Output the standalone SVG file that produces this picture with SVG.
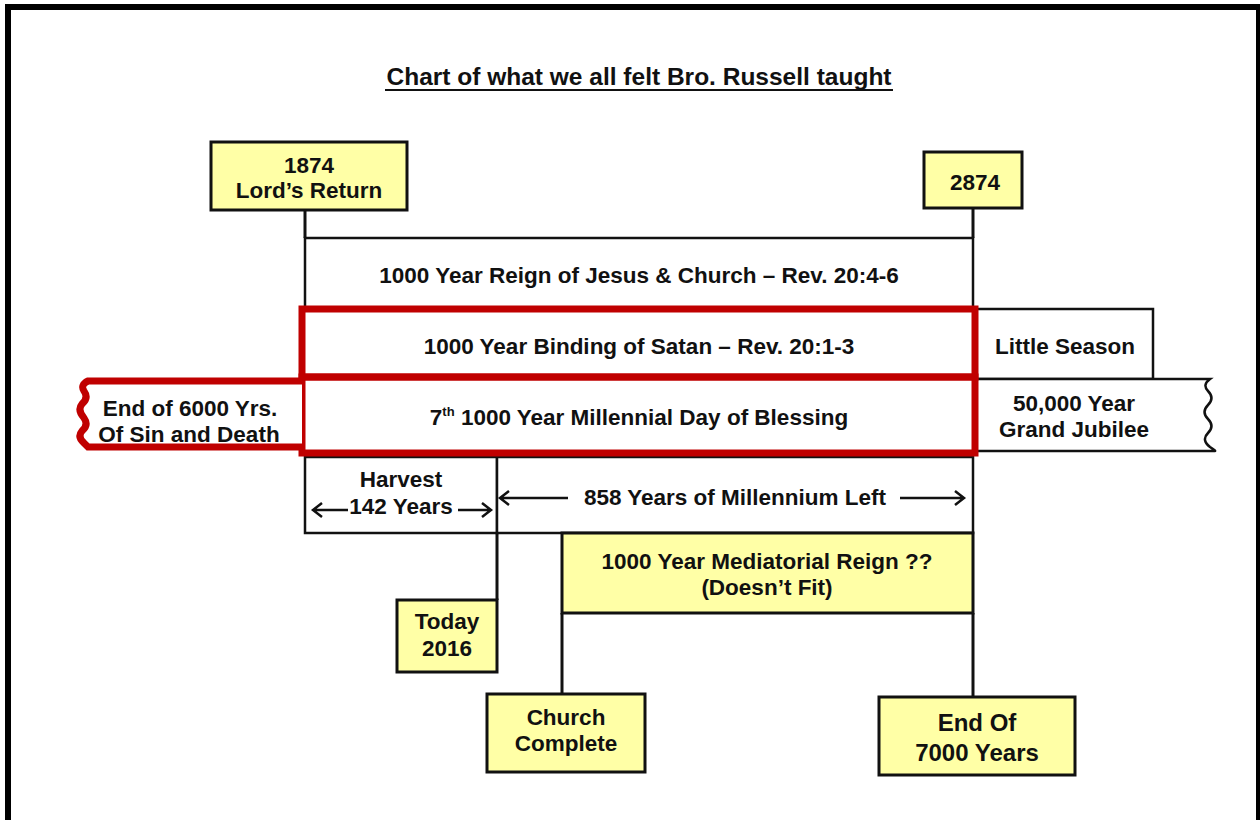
<svg xmlns="http://www.w3.org/2000/svg" width="1260" height="820" viewBox="0 0 1260 820">
<style>
text{font-family:"Liberation Sans",Arial,sans-serif;font-weight:bold;fill:#111;text-anchor:middle;font-size:22.5px}
.yb{fill:#FFFFA6;stroke:#111;stroke-width:3}
.wb{fill:#fff;stroke:#111;stroke-width:2.5}
.red{fill:none;stroke:#C00000;stroke-width:7}
.con{stroke:#111;stroke-width:3;fill:none}
.arr{stroke:#111;stroke-width:2.5;fill:none}
.big{font-size:24px}
</style>
<rect x="0" y="0" width="1260" height="820" fill="#fff"/>
<rect x="8" y="7" width="1251" height="840" fill="none" stroke="#000" stroke-width="6"/>
<g id="title">
<text x="639" y="85" style="font-size:24.5px">Chart of what we all felt Bro. Russell taught</text>
<line x1="385" y1="90" x2="893" y2="90" stroke="#111" stroke-width="2"/>
</g>
<g id="connectors">
<line class="con" x1="305" y1="210" x2="305" y2="238"/>
<line class="con" x1="973" y1="208" x2="973" y2="238"/>
<line class="con" x1="497" y1="533" x2="497" y2="600"/>
<line class="con" x1="562" y1="613" x2="562" y2="694"/>
<line class="con" x1="973" y1="613" x2="973" y2="697"/>
</g>
<g id="reign">
<rect class="wb" x="305" y="238" width="668" height="72"/>
<text x="639" y="283">1000 Year Reign of Jesus &amp; Church – Rev. 20:4-6</text>
</g>
<g id="harvest">
<rect class="wb" x="305" y="457" width="192" height="76"/>
<text x="401" y="487">Harvest</text>
<text x="401" y="514">142 Years</text>
<path class="arr" d="M348,510 H313 M322,503 L313,510 L322,517"/>
<path class="arr" d="M458,510 H491 M482,503 L491,510 L482,517"/>
</g>
<g id="millennium-left">
<rect class="wb" x="497" y="457" width="476" height="76"/>
<text x="735" y="505">858 Years of Millennium Left</text>
<path class="arr" d="M568,498 H500 M509,491 L500,498 L509,505"/>
<path class="arr" d="M900,498 H964 M955,491 L964,498 L955,505"/>
</g>
<g id="little-season">
<rect class="wb" x="975" y="309" width="178" height="70"/>
<text x="1065" y="354">Little Season</text>
</g>
<g id="jubilee">
<path class="wb" d="M975,379 H1210 q-8,6 -2,12 q7,7 0,14 q-7,7 0,14 q7,7 0,14 q-7,7 2,14 q6,4 5,4 H975"/>
<text x="1074" y="411">50,000 Year</text>
<text x="1074" y="437">Grand Jubilee</text>
</g>
<g id="binding">
<rect class="red" x="302" y="309" width="673" height="68"/>
<text x="639" y="354">1000 Year Binding of Satan – Rev. 20:1-3</text>
</g>
<g id="seventh">
<rect class="red" x="302" y="377" width="673" height="76"/>
<text x="639" y="425">7<tspan dy="-9" style="font-size:13px">th</tspan><tspan dy="9"> 1000 Year Millennial Day of Blessing</tspan></text>
</g>
<g id="end-6000">
<path class="red" d="M302,381 H88 q-8,4 -4,10 q5,7 -2,13 q-5,6 2,14 q5,7 -2,13 q-5,6 2,12 q4,4 4,4 H302" style="fill:#fff"/>
<text x="190" y="416">End of 6000 Yrs.</text>
<text x="189" y="442">Of Sin and Death</text>
</g>
<g id="lords-return">
<rect class="yb" x="211" y="142" width="196" height="68"/>
<text x="309" y="173">1874</text>
<text x="309" y="198">Lord’s Return</text>
</g>
<g id="y2874">
<rect class="yb" x="924" y="152" width="98" height="56"/>
<text x="975" y="190">2874</text>
</g>
<g id="mediatorial">
<rect class="yb" x="562" y="533" width="411" height="80"/>
<text x="767" y="569">1000 Year Mediatorial Reign ??</text>
<text x="767" y="595">(Doesn’t Fit)</text>
</g>
<g id="today">
<rect class="yb" x="397" y="600" width="100" height="72"/>
<text x="447" y="629">Today</text>
<text x="447" y="656">2016</text>
</g>
<g id="church-complete">
<rect class="yb" x="487" y="694" width="158" height="78"/>
<text x="566" y="725">Church</text>
<text x="566" y="751">Complete</text>
</g>
<g id="end-7000">
<rect class="yb" x="879" y="697" width="196" height="78"/>
<text class="big" x="977" y="731">End Of</text>
<text class="big" x="977" y="761">7000 Years</text>
</g>
</svg>
